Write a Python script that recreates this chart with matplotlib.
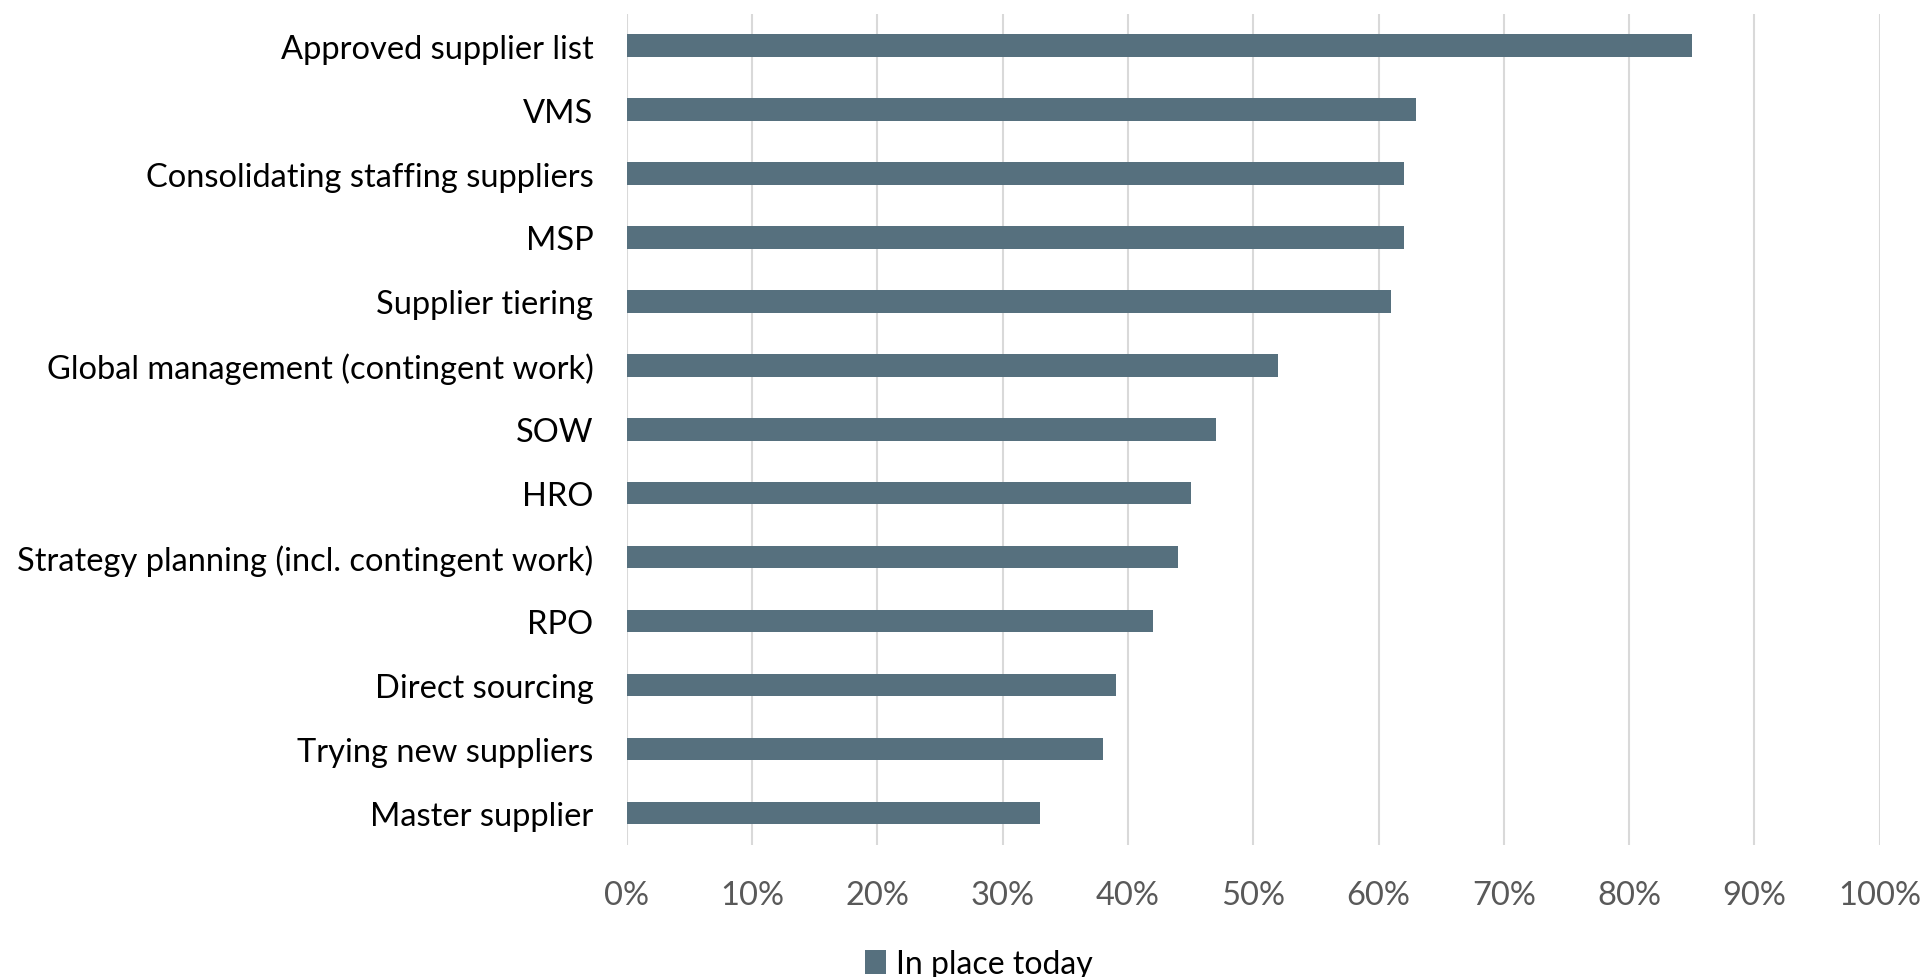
import matplotlib
matplotlib.use("Agg")
import matplotlib.pyplot as plt
from matplotlib.ticker import MultipleLocator, PercentFormatter
from matplotlib.patches import Patch

categories = [
    "Approved supplier list",
    "VMS",
    "Consolidating staffing suppliers",
    "MSP",
    "Supplier tiering",
    "Global management (contingent work)",
    "SOW",
    "HRO",
    "Strategy planning (incl. contingent work)",
    "RPO",
    "Direct sourcing",
    "Trying new suppliers",
    "Master supplier",
]
in_place_today = [85, 63, 62, 62, 61, 52, 47, 45, 44, 42, 39, 38, 33]
series_name = "In place today"

bar_color = "#56707E"
grid_color = "#D9D9D9"
tick_color = "#595959"

plt.rcParams["font.family"] = ["Lato", "DejaVu Sans"]

fig = plt.figure(figsize=(19.23, 9.78), dpi=100)
ax = fig.add_axes([0.326, 0.135, 0.6515, 0.85])

y = list(range(len(categories)))
ax.barh(y, in_place_today, height=0.35, color=bar_color, zorder=3)

ax.set_xlim(0, 100)
ax.set_ylim(len(categories) - 0.5, -0.5)
ax.set_yticks(y)
ax.set_yticklabels(categories, fontsize=23.5, color="black")
ax.xaxis.set_major_locator(MultipleLocator(10))
ax.xaxis.set_major_formatter(PercentFormatter(decimals=0))
ax.tick_params(axis="x", labelsize=23.5, labelcolor=tick_color, length=0, pad=25)
ax.tick_params(axis="y", length=0, pad=24)

ax.grid(axis="x", color=grid_color, linewidth=1.5, zorder=0)
for s in ax.spines.values():
    s.set_visible(False)

handle = Patch(facecolor=bar_color, edgecolor="none")
fig.legend([handle], [series_name], loc="center", bbox_to_anchor=(0.509, 0.013),
           frameon=False, fontsize=23, handlelength=0.65, handleheight=0.8,
           handletextpad=0.3)

fig.savefig("out.png", dpi=100)
